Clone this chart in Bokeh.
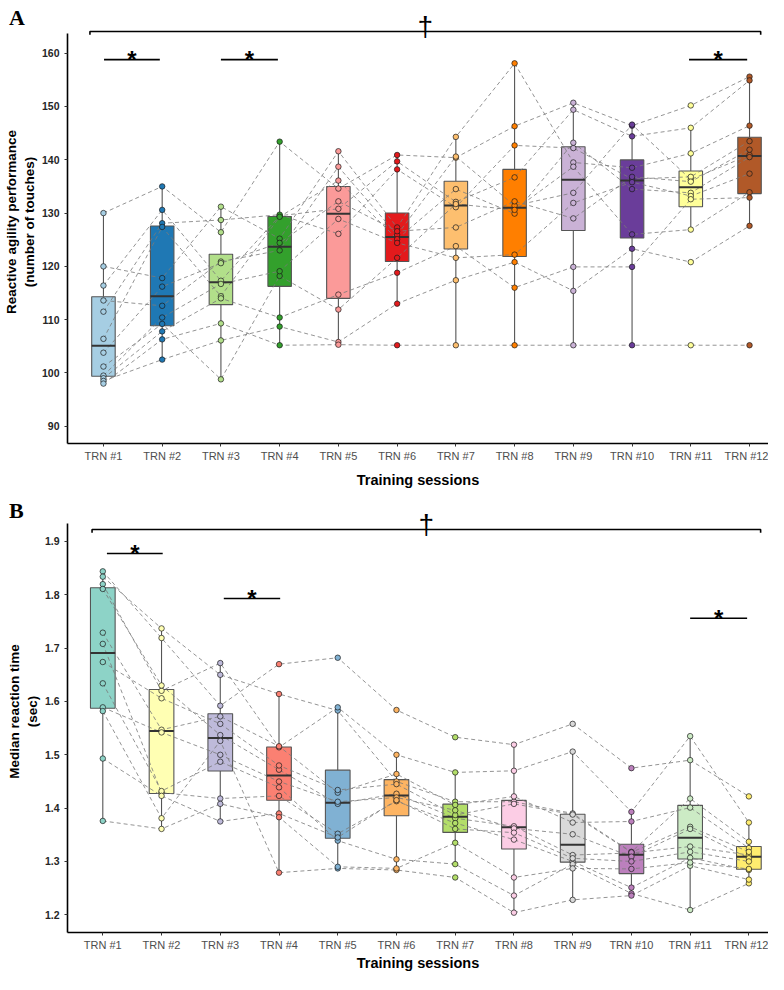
import numpy as np
from bokeh.plotting import figure
from bokeh.models import Range1d, FixedTicker, ColumnDataSource, Div
from bokeh.layouts import column
from bokeh.embed import file_html
from bokeh.resources import INLINE
from bokeh.core.properties import value

# ---------------- data ----------------
sessions = [1, 2, 3, 4, 5, 6, 7, 8, 9, 10, 11, 12]
session_labels = ["TRN #1", "TRN #2", "TRN #3", "TRN #4", "TRN #5", "TRN #6",
                  "TRN #7", "TRN #8", "TRN #9", "TRN #10", "TRN #11", "TRN #12"]

# Panel A: reactive agility performance (number of touches), participants P1..P12
agility_trn01 = [130.0, 120.0, 116.4, 113.6, 111.5, 106.4, 103.8, 101.2, 99.5, 99.0, 98.5, 98.0]
agility_trn02 = [135.0, 117.8, 130.6, 112.6, 128.1, 127.4, 116.2, 109.2, 110.4, 107.8, 102.5, 106.3]
agility_trn03 = [126.4, 131.2, 117.3, 120.9, 128.7, 114.4, 120.6, 98.8, 116.7, 114.0, 106.1, 109.3]
agility_trn04 = [143.4, 125.2, 129.5, 123.0, 129.7, 129.3, 124.4, 118.2, 119.1, 110.4, 108.7, 105.2]
agility_trn05 = [134.6, 141.6, 130.8, 138.7, 126.1, 136.1, 132.2, 111.9, 128.9, 114.7, 105.8, 105.3]
agility_trn06 = [140.9, 127.3, 139.7, 125.9, 138.2, 125.1, 126.6, 121.6, 124.4, 118.8, 113.0, 105.2]
agility_trn07 = [140.4, 144.3, 132.1, 140.6, 131.1, 134.5, 127.3, 131.7, 121.6, 123.8, 117.4, 105.2]
agility_trn08 = [146.3, 158.1, 136.7, 131.4, 142.7, 129.9, 132.2, 130.6, 122.2, 116.0, 120.8, 105.2]
agility_trn09 = [150.7, 139.5, 149.4, 133.8, 142.2, 143.2, 129.0, 138.7, 131.9, 119.9, 115.4, 105.2]
agility_trn10 = [146.4, 138.5, 144.4, 146.6, 136.4, 134.5, 136.8, 126.0, 135.8, 119.9, 123.3, 105.2]
agility_trn11 = [150.2, 141.2, 146.0, 136.3, 136.8, 133.8, 135.9, 126.9, 133.2, 132.6, 120.8, 105.2]
agility_trn12 = [155.6, 146.4, 154.9, 140.9, 143.5, 140.5, 141.9, 133.9, 137.4, 132.9, 127.6, 105.2]
agility_ticks = [90, 100, 110, 120, 130, 140, 150, 160]
agility_colors = ["#A6CEE3", "#1F78B4", "#B2DF8A", "#33A02C", "#FB9A99", "#E31A1C",
                  "#FDBF6F", "#FF7F00", "#CAB2D6", "#6A3D9A", "#FFFF99", "#B15928"]

# Panel B: median reaction time (sec), participants P1..P12
rt_trn01 = [1.844, 1.834, 1.820, 1.811, 1.729, 1.708, 1.674, 1.634, 1.589, 1.582, 1.493, 1.376]
rt_trn02 = [1.719, 1.737, 1.620, 1.630, 1.547, 1.429, 1.606, 1.432, 1.542, 1.381, 1.423, 1.361]
rt_trn03 = [1.592, 1.650, 1.672, 1.537, 1.572, 1.418, 1.558, 1.487, 1.500, 1.526, 1.375, 1.408]
rt_trn04 = [1.670, 1.614, 1.514, 1.472, 1.516, 1.423, 1.480, 1.439, 1.450, 1.279, 1.390, 1.383]
rt_trn05 = [1.682, 1.583, 1.589, 1.408, 1.429, 1.352, 1.434, 1.339, 1.412, 1.287, 1.345, 1.290]
rt_trn06 = [1.584, 1.450, 1.500, 1.427, 1.464, 1.413, 1.445, 1.304, 1.420, 1.284, 1.415, 1.287]
rt_trn07 = [1.533, 1.412, 1.467, 1.381, 1.406, 1.372, 1.387, 1.295, 1.396, 1.270, 1.361, 1.335]
rt_trn08 = [1.519, 1.412, 1.470, 1.366, 1.422, 1.341, 1.408, 1.236, 1.362, 1.204, 1.354, 1.270]
rt_trn09 = [1.558, 1.390, 1.506, 1.312, 1.373, 1.300, 1.388, 1.295, 1.351, 1.228, 1.306, 1.287]
rt_trn10 = [1.475, 1.318, 1.393, 1.316, 1.375, 1.251, 1.317, 1.240, 1.309, 1.236, 1.300, 1.286]
rt_trn11 = [1.490, 1.418, 1.535, 1.328, 1.401, 1.307, 1.365, 1.209, 1.361, 1.292, 1.318, 1.298]
rt_trn12 = [1.422, 1.337, 1.373, 1.312, 1.325, 1.284, 1.318, 1.259, 1.306, 1.266, 1.300, 1.286]
rt_ticks = [1.2, 1.3, 1.4, 1.5, 1.6, 1.7, 1.8, 1.9]
rt_colors = ["#8DD3C7", "#FFFFB3", "#BEBADA", "#FB8072", "#80B1D3", "#FDB462",
             "#B3DE69", "#FCCDE5", "#D9D9D9", "#BC80BD", "#CCEBC5", "#FFED6F"]

agility = [agility_trn01, agility_trn02, agility_trn03, agility_trn04, agility_trn05, agility_trn06,
           agility_trn07, agility_trn08, agility_trn09, agility_trn10, agility_trn11, agility_trn12]
rt = [rt_trn01, rt_trn02, rt_trn03, rt_trn04, rt_trn05, rt_trn06,
      rt_trn07, rt_trn08, rt_trn09, rt_trn10, rt_trn11, rt_trn12]

FONT = "Liberation Sans"
WIDTH = 768


def box_stats(vals):
    a = np.asarray(vals, dtype=float)
    q1, med, q3 = np.percentile(a, [25, 50, 75])
    iqr = q3 - q1
    lo = a[a >= q1 - 1.5 * iqr].min()
    hi = a[a <= q3 + 1.5 * iqr].max()
    return q1, med, q3, lo, hi


def build_panel(data, colors, x_rng, y_rng, y_bounds, y_ticks, y_label,
                box_width, height, border_left, border_bottom, xlabel_standoff,
                bracket_x, bracket_y, drop, dagger_lift, sig_lines):
    p = figure(width=WIDTH, height=height, x_range=Range1d(*x_rng), y_range=Range1d(*y_rng),
               output_backend="svg", toolbar_location=None, title=None,
               min_border_left=border_left, min_border_right=0, min_border_top=0,
               min_border_bottom=border_bottom, outline_line_color=None,
               background_fill_color="white", border_fill_color="white")
    p.xgrid.visible = False
    p.ygrid.visible = False

    st = [box_stats(v) for v in data]
    src = ColumnDataSource(dict(
        x=sessions,
        q1=[s[0] for s in st], med=[s[1] for s in st], q3=[s[2] for s in st],
        lo=[s[3] for s in st], hi=[s[4] for s in st],
        xl=[x - box_width / 2 for x in sessions], xr=[x + box_width / 2 for x in sessions],
        color=colors))

    p.segment(x0="x", y0="q3", x1="x", y1="hi", source=src, line_color="#555555", line_width=1.1)
    p.segment(x0="x", y0="q1", x1="x", y1="lo", source=src, line_color="#555555", line_width=1.1)
    p.vbar(x="x", width=box_width, bottom="q1", top="q3", fill_color="color",
           line_color="#555555", line_width=1.1, source=src)

    n_part = len(data[0])
    xs = [list(sessions) for _ in range(n_part)]
    ys = [[data[s][i] for s in range(len(sessions))] for i in range(n_part)]
    p.multi_line(xs, ys, line_color="#7a7a7a", line_dash="4 3", line_width=0.9, line_alpha=0.9)

    p.segment(x0="xl", y0="med", x1="xr", y1="med", source=src, line_color="#333333", line_width=2)

    px = [sessions[s] for s in range(len(sessions)) for i in range(n_part)]
    py = [data[s][i] for s in range(len(sessions)) for i in range(n_part)]
    pc = [colors[s] for s in range(len(sessions)) for i in range(n_part)]
    p.scatter(px, py, size=5.5, fill_color=pc, line_color="#1a1a1a", line_width=0.7)

    # significance annotations
    x0, x1 = bracket_x
    p.line([x0, x0, x1, x1], [bracket_y - drop, bracket_y, bracket_y, bracket_y - drop],
           line_color="black", line_width=1.6)
    p.text([(x0 + x1) / 2], [bracket_y + dagger_lift], text=["†"], text_font=value(FONT),
           text_font_size="28px", text_align="center", text_baseline="alphabetic",
           text_color="black")
    for a, b, y in sig_lines:
        p.line([a, b], [y, y], line_color="black", line_width=1.6)
        p.text([(a + b) / 2], [y], text=["*"], text_font=value(FONT), text_font_style="bold",
               text_font_size="24px", text_align="center", text_baseline="alphabetic",
               text_color="black")

    # axes
    p.xaxis.ticker = FixedTicker(ticks=sessions)
    p.xaxis.major_label_overrides = {s: lab for s, lab in zip(sessions, session_labels)}
    p.xaxis.axis_label = "Training sessions"
    p.yaxis.ticker = FixedTicker(ticks=y_ticks)
    p.yaxis.axis_label = y_label
    p.yaxis.bounds = y_bounds
    for ax in (p.xaxis[0], p.yaxis[0]):
        ax.axis_line_color = "black"
        ax.axis_line_width = 1.6
        ax.major_tick_line_color = "#333333"
        ax.major_tick_out = 3
        ax.major_tick_in = 0
        ax.minor_tick_line_color = None
        ax.axis_label_text_font = FONT
        ax.axis_label_text_font_style = "bold"
        ax.axis_label_text_color = "black"
        ax.major_label_text_font = FONT
    p.xaxis.axis_label_text_font_size = "14.5px"
    p.yaxis.axis_label_text_font_size = "13.5px"
    p.xaxis.major_label_text_font_size = "11px"
    p.xaxis.major_label_text_color = "#4d4d4d"
    p.xaxis.major_label_standoff = 3
    p.xaxis.axis_label_standoff = xlabel_standoff
    p.yaxis.major_label_text_font_size = "10.5px"
    p.yaxis.major_label_text_font_style = "bold"
    p.yaxis.major_label_text_color = "#262626"
    p.yaxis.major_label_standoff = 5
    p.yaxis.axis_label_standoff = 2
    return p


def panel_letter(letter, margin):
    html = ('<span style="font-family:\'Liberation Serif\',serif;font-weight:bold;'
            'font-size:22px;line-height:24px;color:#000;">%s</span>' % letter)
    return Div(text=html, width=24, height=24, margin=margin)


H_A, H_B = 490, 484

pA = build_panel(agility, agility_colors,
                 x_rng=(0.388, 12.323), y_rng=(86.76, 169.89), y_bounds=(86.76, 163.7),
                 y_ticks=agility_ticks,
                 y_label="Reactive agility performance\n(number of touches)",
                 box_width=0.40, height=H_A,
                 border_left=66, border_bottom=47, xlabel_standoff=7,
                 bracket_x=(0.77, 12.19), bracket_y=164.07, drop=0.6, dagger_lift=0.9,
                 sig_lines=[(1.01, 1.96, 158.8), (3.0, 3.97, 158.8), (10.97, 11.96, 158.8)])

pB = build_panel(rt, rt_colors,
                 x_rng=(0.399, 12.334), y_rng=(1.1668, 1.9956), y_bounds=(1.1668, 1.934),
                 y_ticks=rt_ticks,
                 y_label="Median reaction time\n(sec)",
                 box_width=0.42, height=H_B,
                 border_left=63, border_bottom=42, xlabel_standoff=1,
                 bracket_x=(0.817, 12.2), bracket_y=1.9225, drop=0.006, dagger_lift=0.009,
                 sig_lines=[(1.07, 2.02, 1.8775), (3.06, 4.02, 1.793), (11.0, 11.97, 1.756)])

# panel letters drawn over the top-left corner of each figure (net height 0 in the column)
topA = 6
topB = H_A + 9
divA = panel_letter("A", (topA - H_A, 0, H_A - topA - 24, 9))
divB = panel_letter("B", (topB - (H_A + H_B), 0, (H_A + H_B) - topB - 24, 9))

layout = column(pA, divA, pB, divB, spacing=0)
open("out.html", "w").write(file_html(layout, INLINE))
